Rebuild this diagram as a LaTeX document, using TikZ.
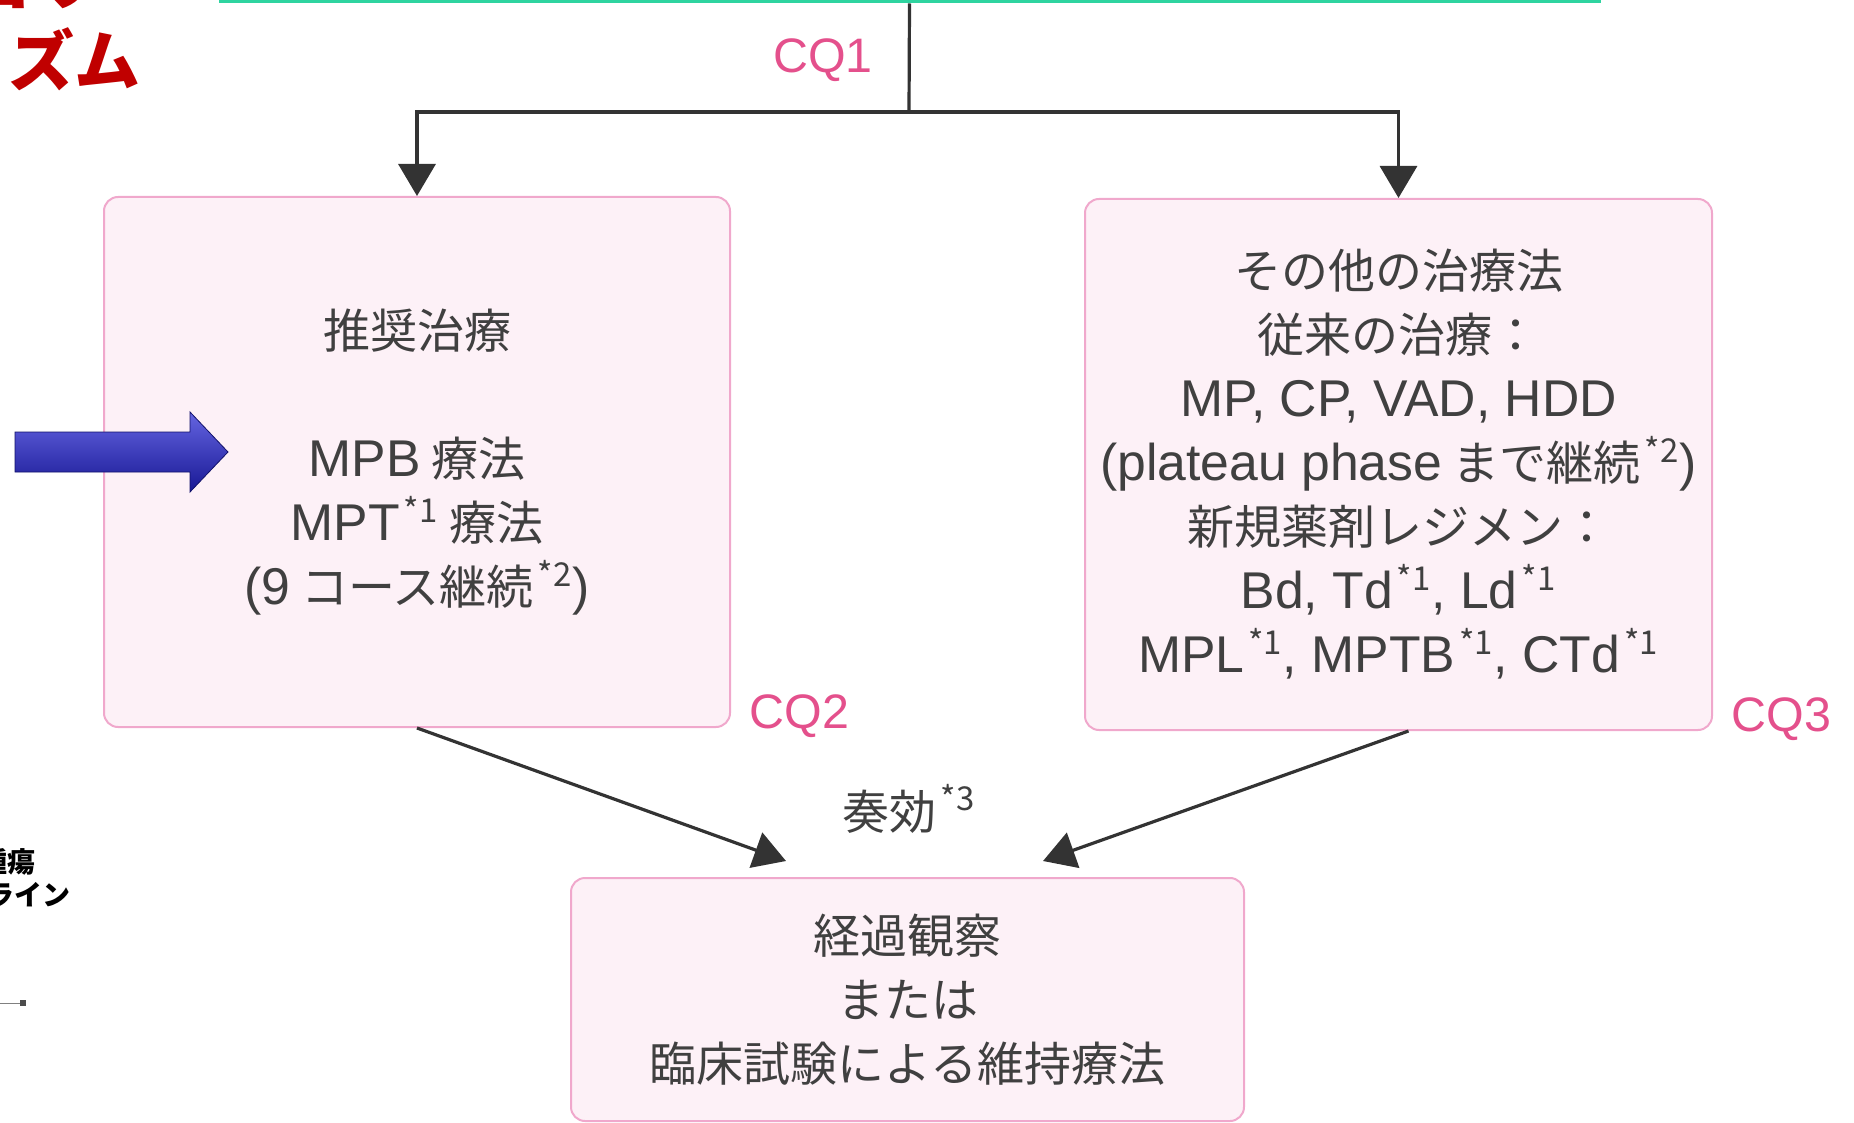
\documentclass[tikz,border=0pt]{standalone}
\usepackage{fontspec}
\usepackage{xcolor}
\usepackage{tikz}
\usetikzlibrary{positioning,arrows.meta}
\newfontfamily\jp{Noto Sans CJK JP}
\newfontfamily\lat[Scale=1.1]{Liberation Sans}
\definecolor{boxpink}{HTML}{FDF1F7}
\definecolor{linepink}{HTML}{F0A8CC}
\definecolor{cqpink}{HTML}{E4508C}
\definecolor{topgreen}{HTML}{2FD4A0}
\definecolor{inkgray}{HTML}{404040}
\definecolor{alertred}{HTML}{C00000}
\definecolor{arrowblue}{HTML}{2222D4}
\newcommand{\asnote}[1]{\kern2pt\textsuperscript{*#1}}
\newcommand{\la}[1]{{\lat #1}}

\begin{document}
\begin{tikzpicture}[x=0.5pt,y=-0.5pt,
    font=\jp\fontsize{23.5}{32}\selectfont, text=inkgray,
    treat/.style={draw=linepink,line width=1pt,fill=boxpink,rounded corners=7pt,align=center},
    cq/.style={text=cqpink,inner sep=0pt,font=\lat\fontsize{22}{30}\selectfont},
    link/.style={draw=inkgray!80!black,line width=1.6pt,-{Triangle[width=18.5pt,length=16pt]}},
    cut/.style={inner sep=0pt,font=\jp\bfseries\fontsize{14}{16}\selectfont,text=black}]
    \useasboundingbox (0,0) rectangle (1854,1123);
    \node[draw=topgreen,line width=1.5pt,minimum width=689.5pt,minimum height=40pt] (start) at (909.5,-38) {};
    \node[cut,anchor=base east,text=alertred,font=\jp\bfseries\fontsize{33}{36}\selectfont] (title1) at (100,5) {アルゴリ};
    \node[cut,anchor=base west,text=alertred,font=\jp\bfseries\fontsize{33}{36}\selectfont] (title2) at (8,86) {ズム};
    \node[cut,anchor=base east] (src1) at (36,872) {腫瘍};
    \node[cut,anchor=base east] (src2) at (71,905) {ドライン};
    \draw[gray,line width=0.5pt] (0,1003) -- (20,1003);
    \fill[gray!60!black] (20,1000) rectangle (26,1006);
    \node[treat,minimum width=313pt,minimum height=265pt] (lbox) at (417,462)
      {推奨治療\\[32pt]\la{MPB} 療法\\\la{MPT}\asnote{1} 療法\\\la{(9} コース継続\asnote{2}\la{)}};
    \node[treat,minimum width=313.5pt,minimum height=265.5pt] (rbox) at (1398.5,464.5)
      {その他の治療法\\従来の治療：\\\la{MP, CP, VAD, HDD}\\\la{(plateau phase} まで継続\asnote{2}\la{)}\\新規薬剤レジメン：\\
       \la{Bd, Td}\asnote{1}\la{, Ld}\asnote{1}\\\la{MPL}\asnote{1}\la{, MPTB}\asnote{1}\la{, CTd}\asnote{1}};
    \node[treat,minimum width=336.5pt,minimum height=121.5pt] (obs) at (907.5,999.5)
      {経過観察\\または\\臨床試験による維持療法};
    \node[cq,anchor=base] (cq1) at (823,73) {CQ1};
    \node[cq,anchor=base west] (cq2) at ([xshift=9pt]lbox.south east) {CQ2};
    \node[cq,anchor=base west] (cq3) at ([xshift=9pt]rbox.south east) {CQ3};
    \node[anchor=base] (resp) at (909,829) {奏効\asnote{3}};
    \coordinate (split) at (909,112);
    \coordinate (effL) at (786,861);
    \coordinate (effR) at (1043,861);
    \draw[draw=inkgray!80!black,line width=1.6pt] (start.south) -- (split);
    \draw[link] (split) -| (lbox.north);
    \draw[link] (split) -| (rbox.north);
    \draw[link] (lbox.south) -- (effL);
    \draw[link] ([xshift=5pt]rbox.south) -- (effR);
    \shade[top color=arrowblue!70!white,middle color=arrowblue,bottom color=arrowblue!70!black,draw=arrowblue!50!black,line width=0.4pt]
      (15,432) -- (190,432) -- (190,412) -- (228,452) -- (190,492) -- (190,472) -- (15,472) -- cycle;
  \end{tikzpicture}
\end{document}
